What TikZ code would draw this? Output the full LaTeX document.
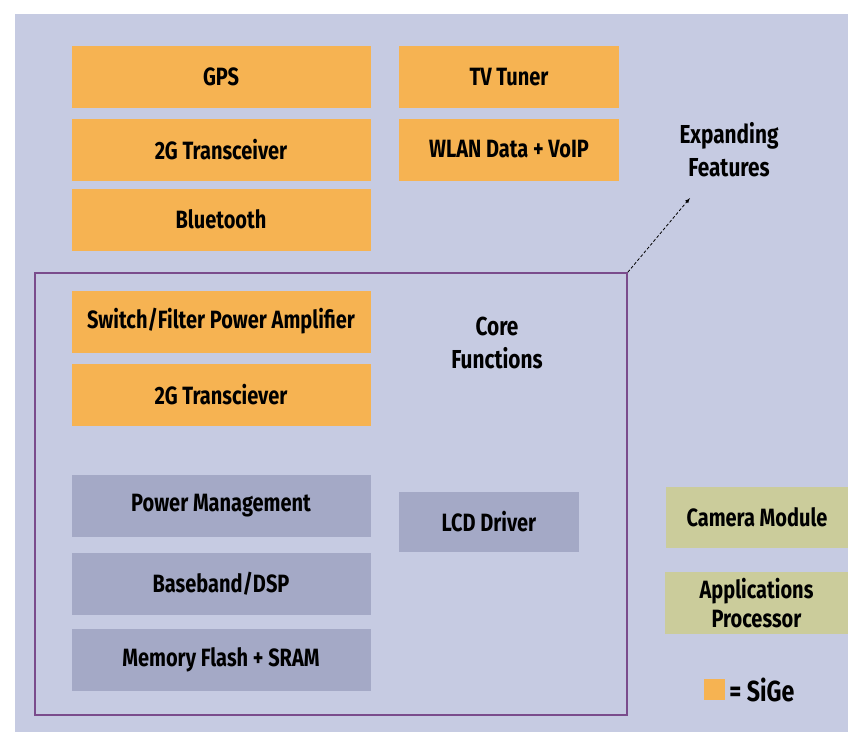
\documentclass[tikz,border=0pt]{standalone}
\usepackage{fontspec}
\newfontfamily\blockfont{Fira Sans}[FakeStretch=0.8]
\definecolor{bgblue}{HTML}{C6CBE2}
\definecolor{sigeorange}{HTML}{F6B352}
\definecolor{coregray}{HTML}{A4A9C6}
\definecolor{appgreen}{HTML}{CBCC9B}
\definecolor{framepurple}{HTML}{7A4C8C}
\tikzset{
  block/.style={inner sep=0pt, align=center, text=black,
    font=\blockfont\bfseries\fontsize{25}{27}\selectfont},
  sige/.style={block, fill=sigeorange, minimum width=299pt, minimum height=62pt},
  base/.style={block, fill=coregray, minimum width=299pt, minimum height=62pt},
  app/.style={block, fill=appgreen, minimum height=61pt},
  caption/.style={block, font=\blockfont\bfseries\fontsize{26}{33}\selectfont},
}
\begin{document}
\begin{tikzpicture}[x=1pt, y=-1pt]
    \useasboundingbox (0,0) rectangle (848,732);
    \fill[bgblue] (15,14) rectangle (848,732);

    % expanding features
    \node[sige] (gps) at (221,77) {GPS};
    \node[sige] (trx) at (221,149.5) {2G Transceiver};
    \node[sige] (bt) at (221,219.5) {Bluetooth};
    \node[sige, minimum width=220pt] (tv) at (509,77) {TV Tuner};
    \node[sige, minimum width=220pt] (wlan) at (509,149.5) {WLAN Data + VoIP};
    \node[caption] (exp) at (729,150) {Expanding\\Features};
    \coordinate (exptip) at (690,198);

    % core functions
    \node[draw=framepurple, line width=1.6pt, minimum width=592pt,
      minimum height=442pt, inner sep=0pt] (core) at (331,494) {};
    \node[sige] (pa) at (221,321.5) {Switch/Filter Power Amplifier};
    \node[sige] (trxcore) at (221,395) {2G Transciever};
    \node[base] (pm) at (221,505.5) {Power Management};
    \node[base] (bb) at (221,584) {Baseband/DSP};
    \node[base] (mem) at (221,659.5) {Memory Flash + SRAM};
    \node[base, minimum width=180pt, minimum height=60pt] (lcd) at (489,522) {LCD Driver};
    \node[caption] (corelabel) at (497,343) {Core\\Functions};

    \draw[-latex, thick, densely dashed] (core.north east) -- (exptip);

    % applications
    \node[app, minimum width=182pt] (cam) at (757,517) {Camera Module};
    \node[app, minimum width=183pt, minimum height=62pt,
      font=\blockfont\bfseries\fontsize{25}{29}\selectfont] (ap) at (756.5,603) {Applications\\Processor};

    % legend
    \node[fill=sigeorange, minimum size=21pt, inner sep=0pt] (key) at (714.5,689.5) {};
    \node[block, anchor=west, font=\blockfont\bfseries\fontsize{29}{31}\selectfont] (keytext) at ([xshift=4pt]key.east) {= SiGe};
\end{tikzpicture}
\end{document}
